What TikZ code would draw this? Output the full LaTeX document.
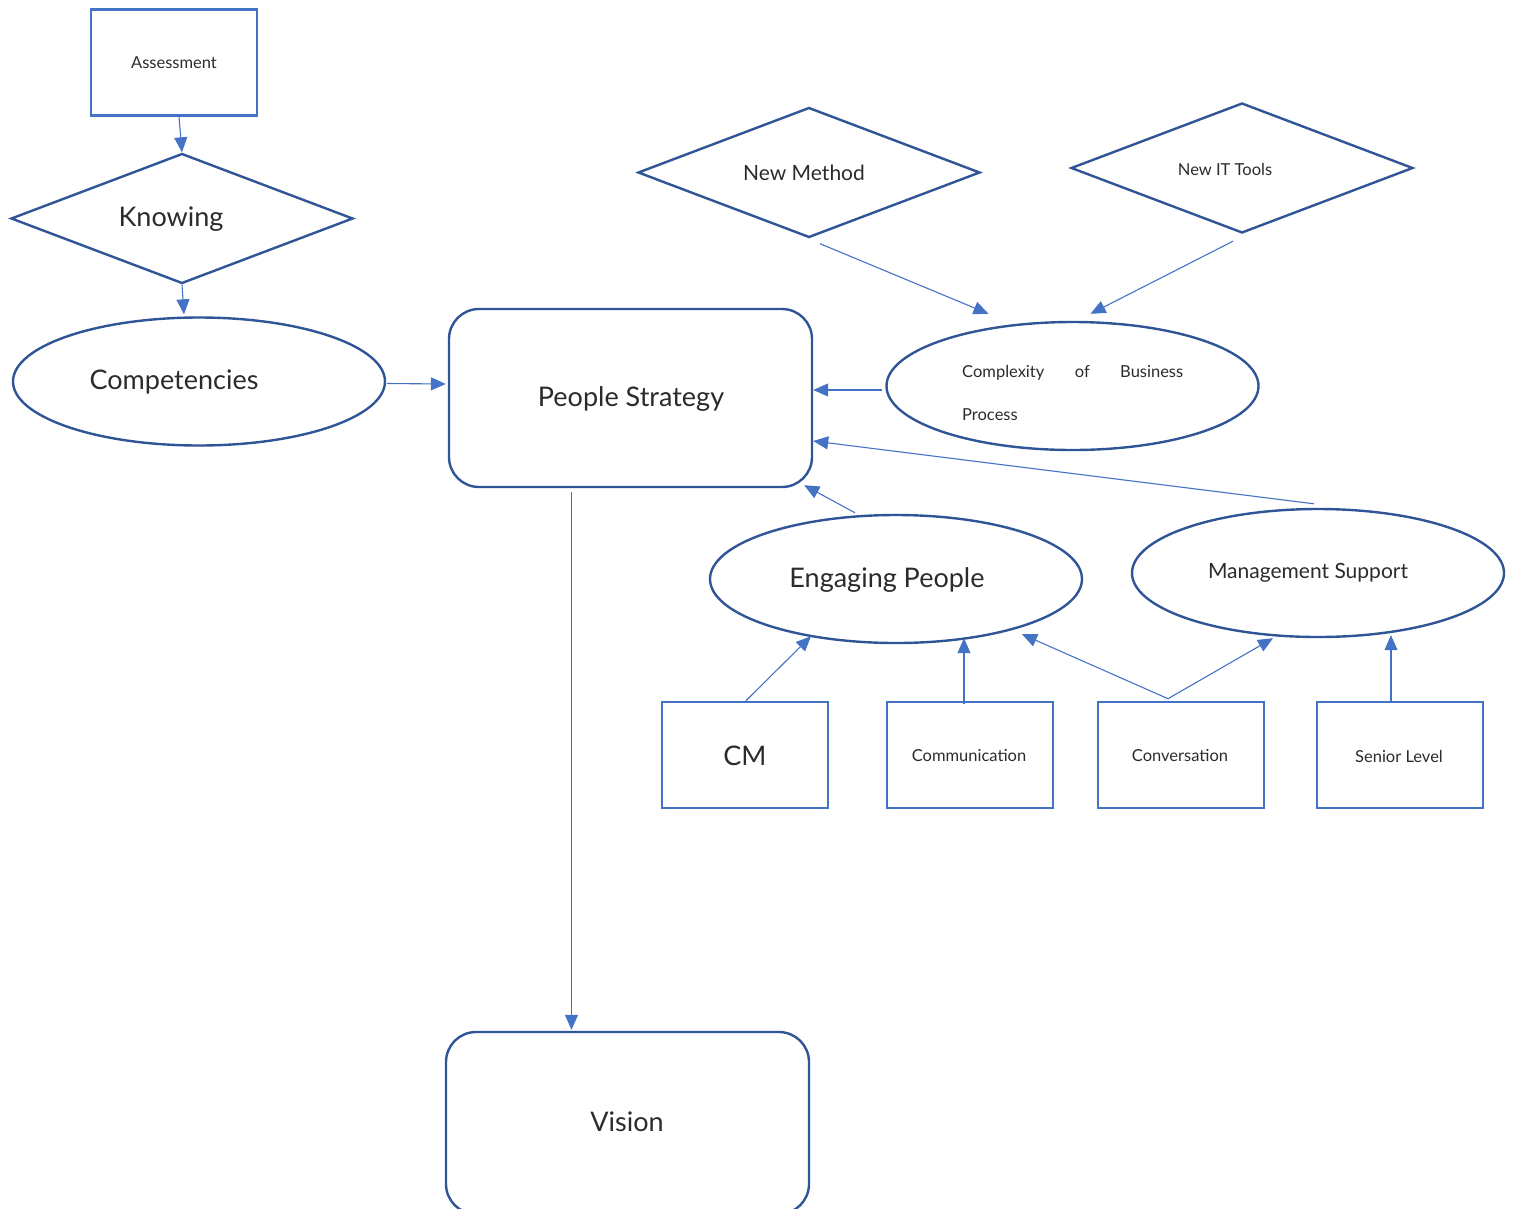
\documentclass[tikz,border=0pt]{standalone}
\usepackage{fontspec}
\setmainfont{Lato}
\usetikzlibrary{shapes.geometric,arrows.meta,calc}
\definecolor{dk}{HTML}{2F5597}
\definecolor{lt}{HTML}{4472C4}
\definecolor{txt}{HTML}{2B2B2B}
\tikzset{
  shp/.style={draw=dk,line width=2.4pt,inner sep=0pt},
  sqbox/.style={draw=lt,line width=2.6pt,inner sep=0pt,rectangle,minimum width=166pt,minimum height=106pt},
  ell/.style={shp,ellipse,minimum width=372pt,minimum height=128pt},
  dia/.style={shp,diamond,minimum width=342pt,minimum height=130pt},
  rrect/.style={shp,rectangle,rounded corners=30pt,minimum width=363pt,minimum height=178pt},
  lab/.style={text=txt,inner sep=0pt},
  big/.style={lab,font=\fontsize{27}{31}\selectfont},
  mid/.style={lab,font=\fontsize{21}{25}\selectfont},
  sml/.style={lab,font=\fontsize{16.5}{20}\selectfont},
  arr/.style={draw=lt,line width=1.1pt,-{Triangle[length=15pt,width=13pt]},fill=none},
}
\begin{document}
\begin{tikzpicture}[x=1pt,y=-1pt]
\useasboundingbox (0,0) rectangle (1518,1208);
% shapes
\node[sqbox] (assess) at (174,62.5) {};
\node[dia] (know) at (182,218.5) {};
\node[ell] (comp) at (199,381.5) {};
\node[rrect] (ps) at (630.5,398) {};
\node[dia] (nm) at (809,172.5) {};
\node[dia] (it) at (1242,168) {};
\node[ell] (cx) at (1072.5,386) {};
\node[ell] (ep) at (896,579) {};
\node[ell] (ms) at (1318,573) {};
\node[sqbox] (cm) at (745,755) {};
\node[sqbox] (comm) at (970,755) {};
\node[sqbox] (conv) at (1181,755) {};
\node[sqbox] (sen) at (1400,755) {};
\node[rrect,minimum height=182pt] (vis) at (627.5,1123) {};
% labels
\node[sml] (assess-t) at (174,63) {Assessment};
\node[big] (know-t) at (171,219) {Knowing};
\node[big] (comp-t) at (174,382) {Competencies};
\node[big] (ps-t) at (631,399) {People Strategy};
\node[mid] (nm-t) at (804,173) {New Method};
\node[sml] (it-t) at (1225,169) {New IT Tools};
\node[sml,anchor=west] (cx-t1) at (962,373) {\makebox[221pt][s]{Complexity of Business}};
\node[sml,anchor=west] (cx-t2) at (962,415) {Process};
\node[big] (ep-t) at (887,580) {Engaging People};
\node[mid] (ms-t) at (1308,573) {Management Support};
\node[big] (cm-t) at (745,756) {CM};
\node[sml] (comm-t) at (969,756) {Communication};
\node[sml] (conv-t) at (1180,756) {Conversation};
\node[sml] (sen-t) at (1399,756) {Senior Level};
\node[big] (vis-t) at (627,1122) {Vision};
% connectors
\draw[arr] ($(assess.south)+(5,0)$) -- (know.north);
\draw[arr] (know.south) -- ($(comp.north)+(-15,-2)$);
\draw[arr] ($(comp.east)+(1,2)$) -- ($(ps.west)+(-2,-14)$);
\draw[arr] ($(cx.west)+(-3,4)$) -- ($(ps.east)+(0,-8)$);
\draw[arr] ($(nm.south)+(11,5)$) -- ($(cx.north)+(-84,-7)$);
\draw[arr] ($(it.south)+(-9,7)$) -- ($(cx.north)+(18,-7)$);
\draw[arr] ($(ms.north)+(-4,-4)$) -- ($(ps.east)+(0,43)$);
\draw[arr] ($(ep.north)+(-41,-1)$) -- ($(ps.south east)+(-9,-3)$);
\draw[arr] ($(cm.north)+(1,0)$) -- ($(ep.south)+(-85,-8)$);
\draw[arr] ($(comm.north)+(-6,3)$) -- ($(ep.south)+(68,-6)$);
\draw[arr] ($(conv.north)+(-13,-2)$) -- ($(ep.south)+(126,-10)$);
\draw[arr] ($(conv.north)+(-13,-2)$) -- ($(ms.south)+(-45,0)$);
\draw[arr] ($(sen.north)+(-9,0)$) -- ($(ms.south)+(73,-3)$);
\draw[arr] ($(ps.south)+(-59,4)$) -- ($(vis.north)+(-56,-1)$);
\end{tikzpicture}
\end{document}
